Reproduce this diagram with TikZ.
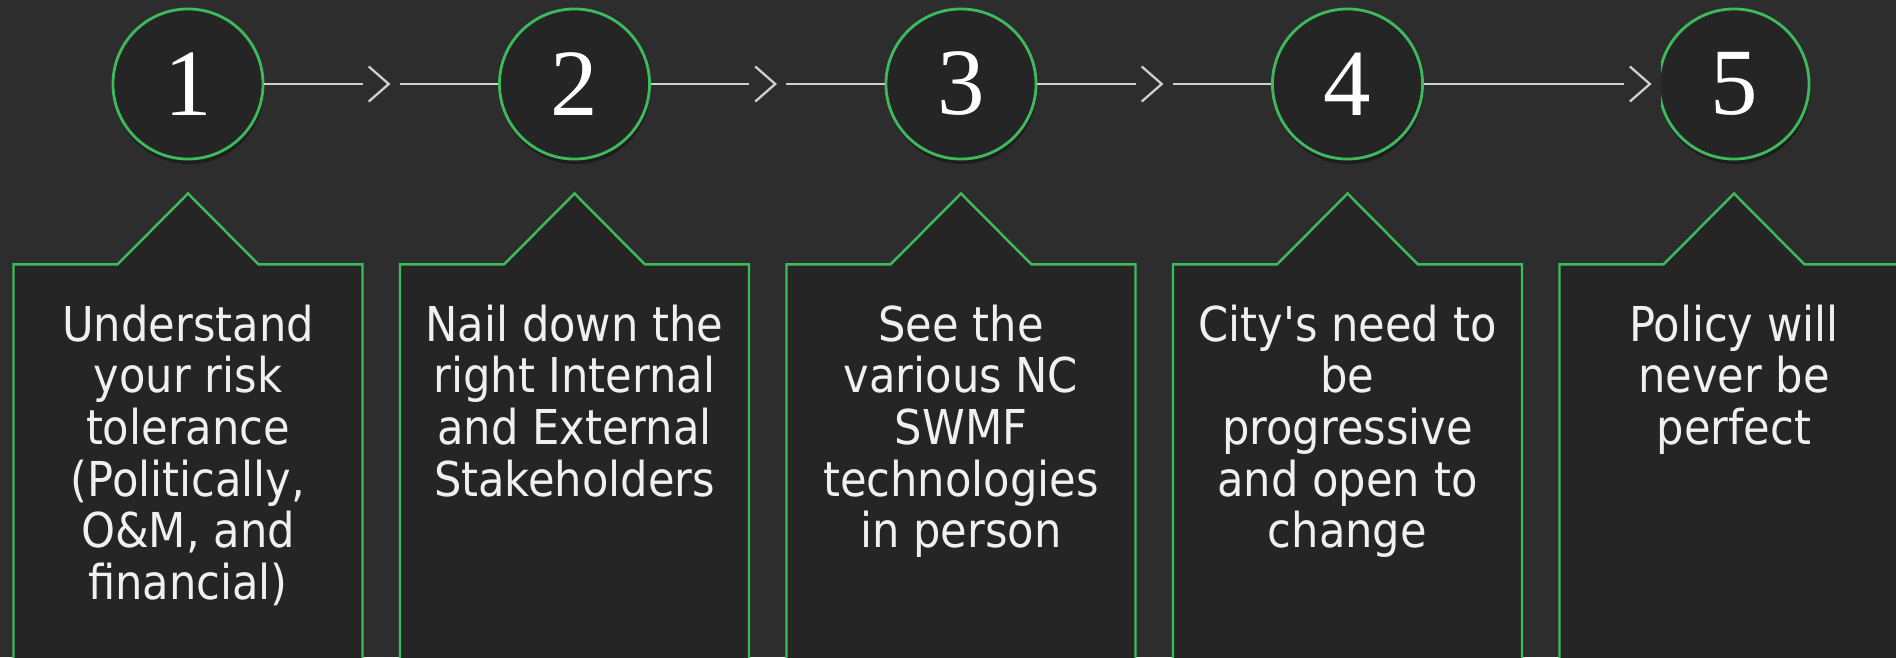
\documentclass[tikz,border=0pt]{standalone}
\usepackage{fontspec}
\newfontfamily\stepfont{DejaVu Sans Condensed}
\newfontfamily\numfont{Liberation Serif}
\usetikzlibrary{positioning,shadows}
\definecolor{board}{HTML}{2D2D2D}
\definecolor{panel}{HTML}{252525}
\definecolor{leaf}{HTML}{3DBA5C}
\definecolor{chalk}{HTML}{C8D4C8}
\tikzset
{
    stepnode/.style = {circle, draw=leaf, line width=0.8pt, fill=panel, minimum size=1.5cm, inner sep=0, text=white, font=\numfont\fontsize{27}{27}\selectfont, drop shadow={draw=none, fill=black, opacity=0.35, shadow xshift=0.01cm, shadow yshift=-0.05cm}},
    callout/.style  = {draw=leaf, line width=0.7pt, fill=panel},
    steptext/.style = {anchor=north, align=center, inner sep=0, text=white!94!black, font=\stepfont\fontsize{13.66}{14.7}\selectfont},
    link/.style     = {draw=chalk, line width=0.55pt},
    chevron/.style  = {fill=board, inner sep=0, minimum width=0.37cm, minimum height=0.42cm,
                       path picture={\draw[chalk, line width=0.65pt]
                         ([xshift=-0.125cm, yshift=0.175cm]path picture bounding box.center) --
                         ([xshift=0.075cm]path picture bounding box.center) --
                         ([xshift=-0.125cm, yshift=-0.175cm]path picture bounding box.center);}}
}
\begin{document}
\begin{tikzpicture}[x=0.01cm, y=-0.01cm]
\useasboundingbox (0,0) rectangle (1896,657);
\clip (0,0) rectangle (1896,657);
\fill[board] (0,0) rectangle (1896,657);
% numbered steps
\node [stepnode] at (188,84) (c1) {1};
\node [stepnode] at (574.5,84) (c2) {2};
\node [stepnode] at (961,84) (c3) {3};
\node [stepnode] at (1347.5,84) (c4) {4};
\node [stepnode] at (1734,84) (c5) {5};
\path[link] (c1) -- node[chevron] (a1) {} (c2);
\path[link] (c2) -- node[chevron] (a2) {} (c3);
\path[link] (c3) -- node[chevron] (a3) {} (c4);
\path[link] (c4) -- node[chevron, pos=0.935] (a4) {} (c5);
% callout boxes under the steps
\draw[callout] ([yshift=-0.33cm]c1.south) -- ++(70.5,71) -- ++(104,0) -- ++(0,450) -- ++(-349,0) -- ++(0,-450) -- ++(104,0) -- cycle;
\draw[callout] ([yshift=-0.33cm]c2.south) -- ++(70.5,71) -- ++(104,0) -- ++(0,450) -- ++(-349,0) -- ++(0,-450) -- ++(104,0) -- cycle;
\draw[callout] ([yshift=-0.33cm]c3.south) -- ++(70.5,71) -- ++(104,0) -- ++(0,450) -- ++(-349,0) -- ++(0,-450) -- ++(104,0) -- cycle;
\draw[callout] ([yshift=-0.33cm]c4.south) -- ++(70.5,71) -- ++(104,0) -- ++(0,450) -- ++(-349,0) -- ++(0,-450) -- ++(104,0) -- cycle;
\draw[callout] ([yshift=-0.33cm]c5.south) -- ++(70.5,71) -- ++(104,0) -- ++(0,450) -- ++(-349,0) -- ++(0,-450) -- ++(104,0) -- cycle;
\node [steptext] at (188,304) (t1) {Understand\\your risk\\tolerance\\(Politically,\\O\&M, and\\financial)};
\node [steptext] at (574.5,304) (t2) {Nail down the\\right Internal\\and External\\Stakeholders};
\node [steptext] at (961,304) (t3) {See the\\various NC\\SWMF\\technologies\\in person};
\node [steptext] at (1347.5,304) (t4) {City's need to\\be\\progressive\\and open to\\change};
\node [steptext] at (1734,304) (t5) {Policy will\\never be\\perfect};
\end{tikzpicture}
\end{document}
